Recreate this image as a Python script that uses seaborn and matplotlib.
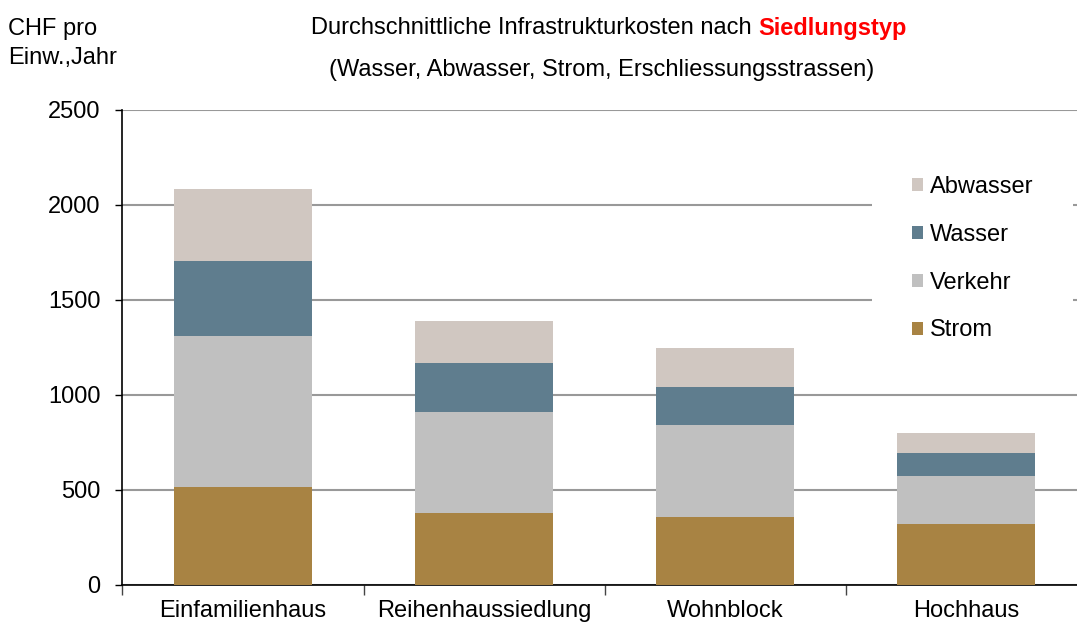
import matplotlib
matplotlib.use("Agg")
import matplotlib.pyplot as plt
from matplotlib.patches import Patch
import seaborn as sns
import pandas as pd
import numpy as np

# Infrastructure cost per inhabitant and year (CHF), by settlement type
categories = ["Einfamilienhaus", "Reihenhaussiedlung", "Wohnblock", "Hochhaus"]
strom = [515, 380, 358, 321]
verkehr = [795, 530, 484, 253]
wasser = [395, 258, 200, 121]
abwasser = [380, 221, 205, 105]

layers = ["Strom", "Verkehr", "Wasser", "Abwasser"]
layer_values = {"Strom": strom, "Verkehr": verkehr, "Wasser": wasser, "Abwasser": abwasser}
colors = {"Strom": "#A88343", "Verkehr": "#C0C0C0", "Wasser": "#5F7D8E", "Abwasser": "#D0C7C1"}

yticks = [0, 500, 1000, 1500, 2000, 2500]

sns.set_theme(style="white")
plt.rcParams["font.family"] = ["Liberation Sans", "DejaVu Sans"]
plt.rcParams["text.color"] = "black"
plt.rcParams["axes.labelcolor"] = "black"
plt.rcParams["xtick.color"] = "black"
plt.rcParams["ytick.color"] = "black"

fig = plt.figure(figsize=(10.77, 6.26), dpi=100)
ax = fig.add_axes([0.11374, 0.0655, 0.8954, 0.7588])

df = pd.DataFrame({"Siedlungstyp": categories})
bottom = np.zeros(len(categories))
for name in layers:
    df[name] = layer_values[name]
    sns.barplot(data=df, x="Siedlungstyp", y=name, order=categories,
                color=colors[name], bottom=bottom, width=0.571,
                linewidth=0, saturation=1, errorbar=None, ax=ax, zorder=3)
    bottom = bottom + np.array(layer_values[name])

ax.set_xlim(-0.5, 3.5)
ax.set_ylim(0, 2500)
ax.set_xlabel("")
ax.set_ylabel("")

# horizontal gridlines
ax.set_yticks(yticks)
ax.set_yticklabels([str(v) for v in yticks])
ax.yaxis.grid(True, color="#999999", linewidth=1.5, zorder=0)
ax.xaxis.grid(False)
ax.set_axisbelow(True)

# category boundaries as major ticks, labels on minor ticks at bar centres
n = len(categories)
ax.set_xticks(np.arange(-0.5, n, 1.0))
ax.set_xticklabels([])
ax.set_xticks(np.arange(n), minor=True)
ax.set_xticklabels(categories, minor=True)
ax.tick_params(axis="x", which="major", length=7, width=1, color="#444444", direction="out", bottom=True)
ax.tick_params(axis="x", which="minor", length=0, pad=11, labelsize=17, labelcolor="black")
ax.tick_params(axis="y", length=5, width=1, color="black", direction="out", left=True, pad=11,
               labelsize=17, labelcolor="black")

for side in ["top", "right"]:
    ax.spines[side].set_visible(False)
for side in ["left", "bottom"]:
    ax.spines[side].set_visible(True)
    ax.spines[side].set_color("black")
    ax.spines[side].set_linewidth(1.2)

# legend, top layer first
handles = [Patch(facecolor=colors[k], edgecolor="none", label=k) for k in layers[::-1]]
leg = ax.legend(handles=handles, loc="upper left", bbox_to_anchor=(0.7772, 0.945),
                frameon=True, fontsize=17, handlelength=0.47, handleheight=0.47,
                handletextpad=0.27, labelspacing=1.09, borderpad=1.7,
                borderaxespad=0, labelcolor="black")
leg.get_frame().set_facecolor("white")
leg.get_frame().set_edgecolor("none")
leg.get_frame().set_alpha(1)

# axis unit label
fig.text(8 / 1077, 1 - 18 / 626, "CHF pro\nEinw.,Jahr", ha="left", va="top",
         fontsize=17, linespacing=1.42, color="black")

# two-part title with highlighted word
fig.canvas.draw()
renderer = fig.canvas.get_renderer()
t1 = fig.text(0, 1 - 28 / 626, "Durchschnittliche Infrastrukturkosten nach ",
              ha="left", va="center", fontsize=17, color="black")
t2 = fig.text(0, 1 - 28 / 626, "Siedlungstyp", ha="left", va="center",
              fontsize=17, fontweight="bold", color="#FF0000")
w1 = t1.get_window_extent(renderer).width
w2 = t2.get_window_extent(renderer).width
x0 = 609 - (w1 + w2) / 2
t1.set_x(x0 / 1077)
t2.set_x((x0 + w1) / 1077)
fig.text(602 / 1077, 1 - 70 / 626, "(Wasser, Abwasser, Strom, Erschliessungsstrassen)",
         ha="center", va="center", fontsize=17, color="black")

fig.savefig("out.png", dpi=100)
